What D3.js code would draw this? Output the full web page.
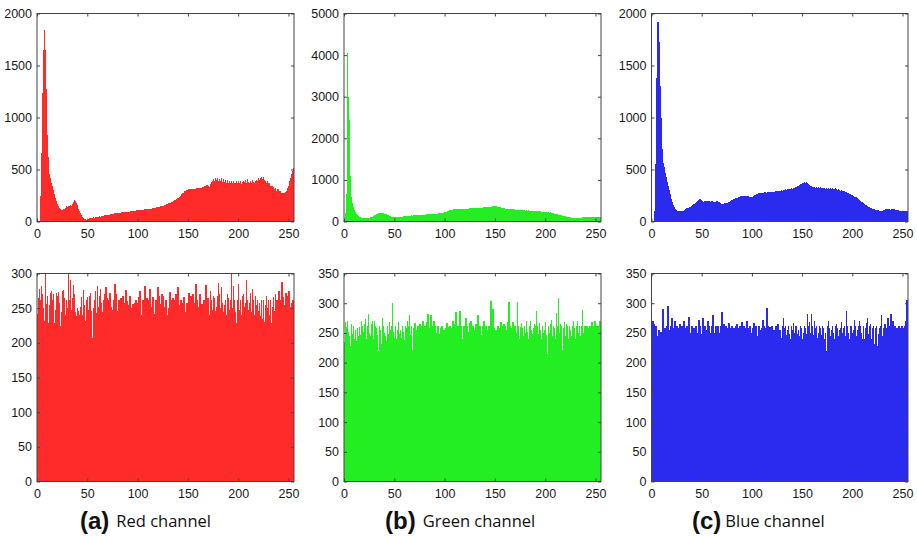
<!DOCTYPE html>
<html>
<head>
<meta charset="utf-8">
<script src="https://cdn.jsdelivr.net/npm/d3@7/dist/d3.min.js"></script>
<style>
  html, body { margin: 0; padding: 0; background: #fff; }
  svg { display: block; }
</style>
</head>
<body>
<svg id="chart" width="917" height="536"></svg>
<script>
// Grey levels 0..255 (one bar per level)
const levels = d3.range(256);

// Histogram counts of the plain image, per channel
const redPlain = [
  0,0,0,250,660,1240,1650,1840,1650,1270,830,620,460,420,370,340,
  300,260,230,200,170,150,130,118,110,115,120,125,130,150,140,150,
  145,160,150,170,190,210,200,180,160,120,100,80,60,45,35,25,
  20,15,18,25,30,35,32,38,40,36,42,45,40,48,50,46,
  52,55,50,58,60,56,62,65,60,68,70,66,72,78,74,80,
  76,82,85,80,88,84,90,86,92,95,88,96,92,98,94,100,
  96,104,98,106,102,108,100,112,106,110,104,116,110,118,112,120,
  116,124,118,128,122,132,126,136,130,140,134,146,140,152,148,160,
  156,170,158,176,166,182,186,172,196,204,192,214,222,210,236,250,
  262,276,278,296,280,304,290,308,292,310,296,316,290,316,300,318,
  304,322,306,326,312,334,318,338,336,350,346,336,364,376,390,408,
  392,414,398,420,390,412,394,416,384,406,380,400,374,396,372,392,
  366,390,370,394,374,366,388,368,392,366,386,360,382,394,378,400,
  374,406,382,366,390,370,398,376,366,392,396,388,414,398,422,430,
  408,424,396,394,372,388,366,366,346,344,340,336,316,322,298,314,
  290,290,272,274,276,278,260,282,290,322,342,394,414,454,484,515
];
const greenPlain = [
  0,200,650,4050,3000,2450,1100,600,450,350,280,230,190,160,130,110,
  100,90,85,80,82,78,84,80,86,90,100,110,120,130,145,160,
  175,190,200,210,205,215,200,195,185,175,170,160,150,140,130,120,
  115,110,105,100,108,104,112,110,118,114,120,125,122,128,134,130,
  136,140,138,146,142,150,154,148,158,152,160,156,164,158,166,162,
  168,164,172,166,176,170,180,174,184,178,186,182,190,186,194,188,
  196,200,206,214,222,230,240,250,258,266,272,278,284,290,286,294,
  290,298,294,300,296,304,298,306,302,308,304,312,306,314,310,316,
  312,318,314,322,318,326,322,330,326,334,330,338,334,342,340,348,
  344,352,350,358,362,368,372,364,358,352,346,340,334,328,322,316,
  310,306,300,304,296,300,292,296,288,292,284,288,280,284,276,280,
  272,276,268,272,264,270,262,266,260,264,256,260,252,256,248,252,
  246,250,242,246,238,240,232,236,228,230,222,224,216,218,210,204,
  198,192,186,180,174,168,160,154,148,142,136,130,124,118,112,106,
  102,98,94,90,88,86,84,86,88,90,92,94,96,98,100,102,
  104,106,108,110,106,102,98,104,110,106,100,96,104,110,116,120
];
const bluePlain = [
  0,0,0,100,550,1380,1920,1730,1300,1000,700,560,520,470,430,380,
  340,300,260,220,190,160,140,125,110,105,100,98,95,102,98,105,
  100,108,120,126,132,128,136,140,150,158,165,170,176,190,200,210,
  212,205,198,192,186,194,188,196,190,198,192,186,194,190,184,192,
  186,196,190,184,178,172,168,164,170,176,168,174,180,186,192,198,
  204,210,214,218,222,226,230,234,238,242,240,246,238,244,250,248,
  242,236,232,228,234,240,246,252,258,262,266,270,264,272,268,276,
  272,280,274,278,282,276,284,280,286,282,288,284,290,286,294,290,
  296,300,296,304,300,308,304,312,308,316,312,320,316,326,322,330,
  336,342,340,350,356,362,368,374,380,372,384,370,362,354,346,340,
  334,328,330,326,332,324,330,322,328,320,326,318,324,316,322,314,
  320,312,318,314,320,316,312,318,310,306,312,302,298,304,294,290,
  296,288,282,278,274,268,262,258,252,246,240,236,232,226,220,210,
  200,192,184,176,168,162,156,150,144,138,132,128,124,120,116,112,
  110,108,106,104,102,100,104,108,112,116,120,118,116,114,112,118,
  120,116,112,108,110,106,104,100,102,98,100,104,100,96,100,102
];

// Histogram counts of the encrypted image, per channel
const redCipher = [
  242,265,278,262,282,270,250,232,300,256,268,228,255,272,275,262,
  270,228,248,272,268,274,258,225,245,275,276,265,240,262,250,300,
  262,290,248,265,284,270,245,238,250,246,240,252,266,240,276,255,
  232,262,266,248,268,272,246,207,250,262,275,243,282,252,268,278,
  258,244,262,270,280,264,242,262,272,252,248,225,262,285,270,246,
  228,262,244,265,248,268,258,242,276,260,245,255,268,250,238,256,
  250,258,262,244,258,266,275,240,222,262,250,282,246,265,238,262,
  278,246,252,266,242,222,262,250,280,268,244,256,270,268,252,238,
  262,240,225,250,273,262,244,265,255,262,270,248,280,255,238,262,
  258,244,266,245,230,258,245,272,250,268,252,270,246,258,285,262,
  245,252,270,248,256,230,262,244,283,258,265,240,275,262,248,268,
  265,246,252,268,286,270,250,280,258,244,255,262,240,270,265,248,
  262,300,250,282,262,244,228,262,285,248,262,240,268,270,252,258,
  290,262,248,258,272,244,278,262,240,268,255,262,246,258,238,262,
  235,262,230,255,268,250,262,240,262,228,252,266,246,270,262,248,
  275,262,238,288,266,255,248,272,250,268,275,252,246,258,262,262
];
const greenCipher = [
  235,268,260,270,252,244,228,265,248,262,240,255,236,258,244,260,
  246,270,262,252,265,274,240,262,282,250,244,265,270,240,270,262,
  258,246,220,262,255,232,275,262,250,244,236,262,248,268,255,262,
  300,252,242,262,240,255,268,248,255,242,262,252,238,262,258,270,
  262,280,246,262,222,258,266,242,255,262,246,265,252,262,270,248,
  262,255,268,282,244,258,280,262,240,270,262,250,246,262,248,236,
  258,262,246,255,217,258,266,244,260,262,240,258,270,250,265,285,
  250,262,246,287,262,238,240,262,255,275,262,248,252,266,270,242,
  262,255,240,265,262,280,252,262,246,245,262,270,250,262,236,255,
  262,250,303,262,290,258,240,255,240,262,258,246,268,262,250,265,
  262,242,255,268,302,262,240,258,268,246,262,250,302,262,240,260,
  266,258,244,262,250,270,252,240,262,270,255,248,258,265,262,287,
  262,248,266,255,240,262,250,255,268,246,215,262,250,265,272,244,
  262,258,240,283,262,308,250,265,262,222,258,268,244,265,262,240,
  262,255,244,262,270,258,240,262,270,250,262,244,262,288,250,262,
  246,262,258,234,262,255,268,225,262,270,244,262,250,262,270,270
];
const blueCipher = [
  238,270,265,250,262,240,245,255,248,252,210,290,244,258,250,262,
  295,255,240,262,275,248,258,270,240,262,240,258,265,244,262,250,
  270,258,242,262,262,276,248,250,262,240,258,228,262,250,240,272,
  262,248,240,275,258,262,240,255,270,262,244,250,262,280,250,240,
  262,248,262,250,240,262,285,250,265,242,262,245,258,266,240,258,
  262,246,258,250,262,265,240,258,262,250,268,244,262,258,250,270,
  258,244,262,250,240,258,266,250,262,244,225,262,245,255,258,272,
  262,245,258,292,262,248,260,240,262,250,255,230,262,258,265,250,
  255,242,262,275,258,262,246,255,262,248,240,262,255,266,250,262,
  262,248,255,244,262,258,240,250,262,258,248,282,262,268,250,282,
  262,246,270,258,262,242,250,262,258,246,262,258,240,250,220,262,
  270,258,244,255,262,250,240,262,265,258,244,255,258,268,250,258,
  262,245,287,262,250,240,262,262,250,255,272,262,244,255,262,270,
  262,250,240,262,240,258,266,275,248,262,265,240,258,262,232,258,
  262,228,248,258,262,280,245,258,265,238,258,275,262,246,282,262,
  270,250,262,240,258,225,262,240,258,262,246,258,262,270,305,262
];

// Axis ticks
const xTickValues = [0, 50, 100, 150, 200, 250];
const yTicks2000 = [0, 500, 1000, 1500, 2000];
const yTicks5000 = [0, 1000, 2000, 3000, 4000, 5000];
const yTicks300 = [0, 50, 100, 150, 200, 250, 300];
const yTicks350 = [0, 50, 100, 150, 200, 250, 300, 350];

// Captions under each column
const captionTags = ["(a)", "(b)", "(c)"];
const captionNames = ["Red channel", "Green channel", "Blue channel"];

const svg = d3.select("#chart");

const columns = [
  { left: 37, right: 294, color: "#ff2b2b" },
  { left: 344, right: 601, color: "#22ee22" },
  { left: 651.5, right: 908, color: "#2b2bf0" }
];
const rows = [
  { top: 13.5, bottom: 221.5 },
  { top: 273.5, bottom: 481.5 }
];

const panels = [
  { col: 0, row: 0, values: redPlain, max: 2000, ticks: yTicks2000 },
  { col: 1, row: 0, values: greenPlain, max: 5000, ticks: yTicks5000 },
  { col: 2, row: 0, values: bluePlain, max: 2000, ticks: yTicks2000 },
  { col: 0, row: 1, values: redCipher, max: 300, ticks: yTicks300 },
  { col: 1, row: 1, values: greenCipher, max: 350, ticks: yTicks350 },
  { col: 2, row: 1, values: blueCipher, max: 350, ticks: yTicks350 }
];

const frameColor = "#444";
const labelFont = "'Liberation Sans', Arial, sans-serif";
const fmt = d3.format("d");

panels.forEach((p, k) => {
  const c = columns[p.col], r = rows[p.row];
  const x = d3.scaleLinear().domain([0, 255.5]).range([c.left, c.right]);
  const y = d3.scaleLinear().domain([0, p.max]).range([r.bottom, r.top]);

  const clipId = "clip" + k;
  svg.append("clipPath").attr("id", clipId)
    .append("rect")
    .attr("x", c.left).attr("y", r.top)
    .attr("width", c.right - c.left).attr("height", r.bottom - r.top);

  const g = svg.append("g");

  // bars (slightly widened so neighbouring bars close up into a solid body)
  g.append("g").attr("clip-path", `url(#${clipId})`)
    .selectAll("rect")
    .data(levels.filter(i => p.values[i] > 0))
    .join("rect")
    .attr("x", i => x(i - 0.5))
    .attr("width", i => x(i + 0.5) - x(i - 0.5) + 0.6)
    .attr("y", i => y(Math.min(p.values[i], p.max)))
    .attr("height", i => y(0) - y(Math.min(p.values[i], p.max)))
    .attr("fill", c.color)
    .attr("shape-rendering", "crispEdges");

  // inward ticks on all four sides, labels on left and bottom
  const styleAxis = sel => {
    sel.select(".domain").remove();
    sel.selectAll(".tick line").attr("stroke", frameColor);
    sel.selectAll(".tick text")
      .attr("fill", "#1a1a1a")
      .style("font-family", labelFont)
      .style("font-size", "12.5px");
  };

  g.append("g").attr("transform", `translate(0,${r.bottom})`)
    .call(d3.axisBottom(x).tickValues(xTickValues).tickFormat(fmt).tickSizeInner(-3).tickSizeOuter(0).tickPadding(8))
    .call(styleAxis);
  g.append("g").attr("transform", `translate(0,${r.top})`)
    .call(d3.axisTop(x).tickValues(xTickValues).tickSizeInner(-3).tickSizeOuter(0).tickFormat(""))
    .call(styleAxis);
  g.append("g").attr("transform", `translate(${c.left},0)`)
    .call(d3.axisLeft(y).tickValues(p.ticks).tickFormat(fmt).tickSizeInner(-3).tickSizeOuter(0).tickPadding(5))
    .call(styleAxis);
  g.append("g").attr("transform", `translate(${c.right},0)`)
    .call(d3.axisRight(y).tickValues(p.ticks).tickSizeInner(-3).tickSizeOuter(0).tickFormat(""))
    .call(styleAxis);

  // box
  g.append("rect")
    .attr("x", c.left).attr("y", r.top)
    .attr("width", c.right - c.left).attr("height", r.bottom - r.top)
    .attr("fill", "none").attr("stroke", frameColor).attr("stroke-width", 1);
});

// captions
const captionX = [80, 385, 692];
captionTags.forEach((tag, i) => {
  const t = svg.append("text")
    .attr("x", captionX[i]).attr("y", 529)
    .attr("fill", "#111");
  t.append("tspan")
    .style("font-family", labelFont)
    .style("font-weight", "bold")
    .style("font-size", "24px")
    .text(tag);
  t.append("tspan")
    .attr("dx", i === 2 ? 4 : 7)
    .attr("dy", -2)
    .style("font-family", "'Open Sans', sans-serif")
    .style("font-size", "16.5px")
    .text(captionNames[i]);
});
</script>
</body>
</html>
